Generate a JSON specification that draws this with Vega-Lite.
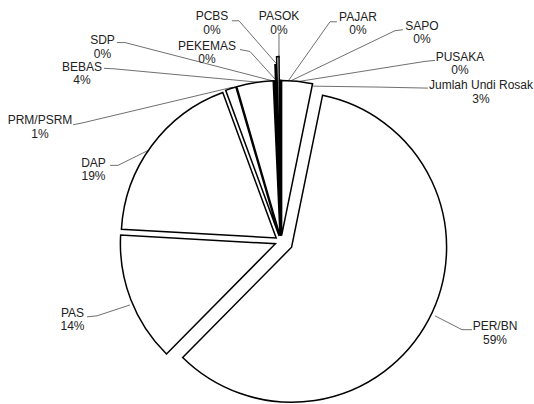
{
  "$schema": "https://vega.github.io/schema/vega-lite/v6.json",
  "width": 534,
  "height": 404,
  "autosize": {"type": "fit", "contains": "padding"},
  "padding": 0,
  "background": "white",
  "view": {"stroke": null},
  "datasets": {
    "votes": [
      {"party": "SDP", "value": 0.05, "pct": "0%", "order": 1},
      {"party": "PEKEMAS", "value": 0.1, "pct": "0%", "order": 2},
      {"party": "PCBS", "value": 0.15, "pct": "0%", "order": 3},
      {"party": "PASOK", "value": 0.25, "pct": "0%", "order": 4},
      {"party": "PAJAR", "value": 0.05, "pct": "0%", "order": 5},
      {"party": "SAPO", "value": 0.05, "pct": "0%", "order": 6},
      {"party": "PUSAKA", "value": 0.05, "pct": "0%", "order": 7},
      {"party": "Jumlah Undi Rosak", "value": 3.2, "pct": "3%", "order": 8},
      {"party": "PER/BN", "value": 59.2, "pct": "59%", "order": 9},
      {"party": "PAS", "value": 13.5, "pct": "14%", "order": 10},
      {"party": "DAP", "value": 18.5, "pct": "19%", "order": 11},
      {"party": "PRM/PSRM", "value": 1.1, "pct": "1%", "order": 12},
      {"party": "BEBAS", "value": 3.8, "pct": "4%", "order": 13}
    ],
    "labels": [
      {"party": "PCBS", "lx": -0.4452, "ly": 1.4419},
      {"party": "PASOK", "lx": -0.0129, "ly": 1.4419},
      {"party": "PAJAR", "lx": 0.4968, "ly": 1.4387},
      {"party": "PEKEMAS", "lx": -0.4774, "ly": 1.2484},
      {"party": "SAPO", "lx": 0.9097, "ly": 1.3806},
      {"party": "PUSAKA", "lx": 1.1548, "ly": 1.1774},
      {"party": "Jumlah Undi Rosak", "lx": 1.2903, "ly": 0.9935},
      {"party": "SDP", "lx": -1.1516, "ly": 1.2871},
      {"party": "BEBAS", "lx": -1.2839, "ly": 1.1129},
      {"party": "PRM/PSRM", "lx": -1.5548, "ly": 0.7645},
      {"party": "DAP", "lx": -1.2097, "ly": 0.4871},
      {"party": "PAS", "lx": -1.3452, "ly": -0.4903},
      {"party": "PER/BN", "lx": 1.3806, "ly": -0.5774}
    ],
    "leaders": [
      {"party": "PER/BN", "seq": 1, "x": 1.2323, "y": -0.5742},
      {"party": "PER/BN", "seq": 2, "x": 1.1677, "y": -0.5742},
      {"party": "PER/BN", "seq": 3, "x": 0.9935, "y": -0.4839},
      {"party": "PAS", "seq": 1, "x": -1.2516, "y": -0.4903},
      {"party": "PAS", "seq": 2, "x": -1.1871, "y": -0.4839},
      {"party": "PAS", "seq": 3, "x": -0.9742, "y": -0.4129},
      {"party": "DAP", "seq": 1, "x": -1.1032, "y": 0.4968},
      {"party": "DAP", "seq": 2, "x": -1.0516, "y": 0.4968},
      {"party": "DAP", "seq": 3, "x": -0.8581, "y": 0.5935},
      {"party": "PRM/PSRM", "seq": 1, "x": -1.3419, "y": 0.7613},
      {"party": "PRM/PSRM", "seq": 2, "x": -1.2774, "y": 0.7742},
      {"party": "PRM/PSRM", "seq": 3, "x": -0.3097, "y": 1.0065},
      {"party": "BEBAS", "seq": 1, "x": -1.1419, "y": 1.129},
      {"party": "BEBAS", "seq": 2, "x": -1.0774, "y": 1.1258},
      {"party": "BEBAS", "seq": 3, "x": -0.1484, "y": 1.0387},
      {"party": "SDP", "seq": 1, "x": -1.0581, "y": 1.2968},
      {"party": "SDP", "seq": 2, "x": -1.0065, "y": 1.2968},
      {"party": "SDP", "seq": 3, "x": -0.0452, "y": 1.0452},
      {"party": "PEKEMAS", "seq": 1, "x": -0.2645, "y": 1.2516},
      {"party": "PEKEMAS", "seq": 2, "x": -0.2, "y": 1.2387},
      {"party": "PEKEMAS", "seq": 3, "x": -0.0258, "y": 1.0452},
      {"party": "PCBS", "seq": 1, "x": -0.3161, "y": 1.4387},
      {"party": "PCBS", "seq": 2, "x": -0.271, "y": 1.4387},
      {"party": "PCBS", "seq": 3, "x": -0.0258, "y": 1.1548},
      {"party": "PASOK", "seq": 1, "x": -0.0129, "y": 1.3613},
      {"party": "PASOK", "seq": 2, "x": -0.0129, "y": 1.2},
      {"party": "PAJAR", "seq": 1, "x": 0.3613, "y": 1.4323},
      {"party": "PAJAR", "seq": 2, "x": 0.3161, "y": 1.4323},
      {"party": "PAJAR", "seq": 3, "x": 0.0452, "y": 1.0452},
      {"party": "SAPO", "seq": 1, "x": 0.7871, "y": 1.3806},
      {"party": "SAPO", "seq": 2, "x": 0.7355, "y": 1.3742},
      {"party": "SAPO", "seq": 3, "x": 0.0452, "y": 1.0387},
      {"party": "PUSAKA", "seq": 1, "x": 0.9935, "y": 1.1806},
      {"party": "PUSAKA", "seq": 2, "x": 0.929, "y": 1.1742},
      {"party": "PUSAKA", "seq": 3, "x": 0.0452, "y": 1.0323},
      {"party": "Jumlah Undi Rosak", "seq": 1, "x": 0.9484, "y": 1.0},
      {"party": "Jumlah Undi Rosak", "seq": 2, "x": 0.6387, "y": 1.0065},
      {"party": "Jumlah Undi Rosak", "seq": 3, "x": 0.2065, "y": 1.0129}
    ]
  },
  "layer": [
    {
      "data": {"name": "leaders"},
      "mark": {"type": "line", "color": "#707070", "strokeWidth": 1},
      "encoding": {
        "x": {"field": "x", "type": "quantitative", "scale": {"domain": [-1.8129, 1.6323], "nice": false, "zero": false}, "axis": null},
        "y": {"field": "y", "type": "quantitative", "scale": {"domain": [-1.0323, 1.5742], "nice": false, "zero": false}, "axis": null},
        "detail": {"field": "party"},
        "order": {"field": "seq", "type": "quantitative"}
      }
    },
    {
      "data": {"name": "votes"},
      "transform": [
        {"stack": "value", "groupby": [], "sort": [{"field": "order", "order": "ascending"}], "as": ["v0", "v1"]}
      ],
      "mark": {
        "type": "arc",
        "outerRadius": 155,
        "fill": "white",
        "stroke": "black",
        "strokeWidth": 1.5,
        "strokeJoin": "miter",
        "xOffset": {"expr": "(datum.party=='PER/BN'?12:datum.party=='PASOK'?30:datum.party=='PCBS'?22:6)*sin(-0.044+PI*(datum.v0+datum.v1)/100)"},
        "yOffset": {"expr": "-(datum.party=='PER/BN'?12:datum.party=='PASOK'?30:datum.party=='PCBS'?22:6)*cos(-0.044+PI*(datum.v0+datum.v1)/100)"}
      },
      "encoding": {
        "x": {"datum": 0, "type": "quantitative"},
        "y": {"datum": 0, "type": "quantitative"},
        "theta": {"field": "v0", "type": "quantitative", "scale": {"domain": [0, 100], "range": [-0.044, 6.2392]}},
        "theta2": {"field": "v1"},
        "order": {"field": "order", "type": "quantitative"}
      }
    },
    {
      "data": {"name": "labels"},
      "transform": [
        {"lookup": "party", "from": {"data": {"name": "votes"}, "key": "party", "fields": ["pct"]}}
      ],
      "mark": {"type": "text", "font": "Liberation Sans", "fontSize": 12, "color": "#222222", "align": "center", "baseline": "middle", "dy": -4},
      "encoding": {
        "x": {"field": "lx", "type": "quantitative"},
        "y": {"field": "ly", "type": "quantitative"},
        "text": {"field": "party"}
      }
    },
    {
      "data": {"name": "labels"},
      "transform": [
        {"lookup": "party", "from": {"data": {"name": "votes"}, "key": "party", "fields": ["pct"]}}
      ],
      "mark": {"type": "text", "font": "Liberation Sans", "fontSize": 12, "color": "#222222", "align": "center", "baseline": "middle", "dy": 9.5},
      "encoding": {
        "x": {"field": "lx", "type": "quantitative"},
        "y": {"field": "ly", "type": "quantitative"},
        "text": {"field": "pct"}
      }
    }
  ]
}
